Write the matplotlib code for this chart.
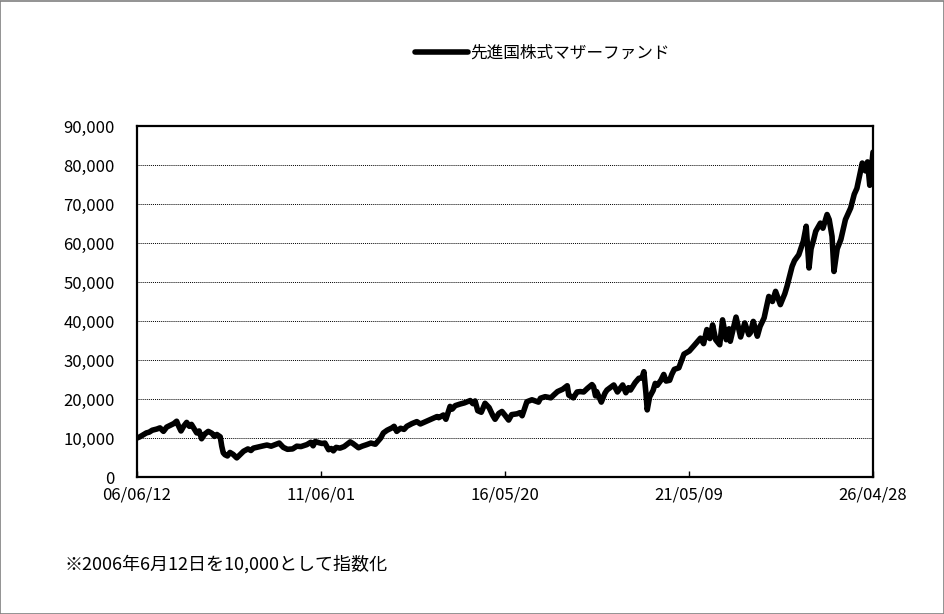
import matplotlib
matplotlib.use("Agg")
import matplotlib.pyplot as plt
from matplotlib.patches import Rectangle
from matplotlib.ticker import FuncFormatter, MultipleLocator
import pandas as pd

plt.rcParams['font.family'] = ['Noto Sans CJK JP', 'DejaVu Sans']

series_name = "先進国株式マザーファンド"
footnote = "※2006年6月12日を10,000として指数化"

dates = [
    "2006-06-12", "2006-07-10", "2006-08-05", "2006-09-12", "2006-10-10", "2006-11-10",
    "2006-12-25", "2007-01-25", "2007-02-28", "2007-04-01", "2007-05-10", "2007-06-10",
    "2007-07-08", "2007-07-25", "2007-08-20", "2007-09-15", "2007-10-15", "2007-11-10",
    "2007-12-01", "2008-01-22", "2008-02-15", "2008-03-10", "2008-04-10", "2008-05-15",
    "2008-06-20", "2008-07-15", "2008-08-08", "2008-09-10", "2008-09-25", "2008-10-10",
    "2008-10-27", "2008-11-20", "2008-12-15", "2009-01-15", "2009-02-20", "2009-03-20",
    "2009-04-28", "2009-06-10", "2009-07-10", "2009-08-03", "2009-09-20", "2009-11-10",
    "2009-12-15", "2010-01-25", "2010-04-15", "2010-05-25", "2010-07-05", "2010-08-25",
    "2010-10-05", "2010-11-15", "2011-01-12", "2011-02-20", "2011-03-15", "2011-04-05",
    "2011-05-10", "2011-06-10", "2011-07-10", "2011-08-15", "2011-09-10", "2011-10-01",
    "2011-10-28", "2011-12-05", "2012-01-15", "2012-03-15", "2012-04-10", "2012-06-05",
    "2012-07-10", "2012-08-25", "2012-10-05", "2012-11-18", "2013-01-10", "2013-02-05",
    "2013-03-15", "2013-05-01", "2013-05-22", "2013-06-17", "2013-07-25", "2013-08-28",
    "2013-09-25", "2013-11-15", "2014-01-01", "2014-02-05", "2014-03-20", "2014-05-20",
    "2014-07-20", "2014-08-05", "2014-09-20", "2014-10-15", "2014-11-25", "2014-12-16",
    "2015-01-15", "2015-03-03", "2015-04-15", "2015-06-12", "2015-07-08", "2015-07-30",
    "2015-08-25", "2015-09-29", "2015-11-05", "2015-12-15", "2016-01-20", "2016-02-12",
    "2016-03-20", "2016-04-20", "2016-05-15", "2016-06-25", "2016-07-25", "2016-09-15",
    "2016-10-15", "2016-11-05", "2016-12-22", "2017-02-10", "2017-04-15", "2017-05-05",
    "2017-06-20", "2017-08-15", "2017-09-12", "2017-10-20", "2017-12-10", "2018-01-24",
    "2018-02-08", "2018-03-25", "2018-05-01", "2018-06-01", "2018-07-05", "2018-08-10",
    "2018-09-25", "2018-10-10", "2018-10-30", "2018-11-10", "2018-12-26", "2019-01-31",
    "2019-02-20", "2019-04-28", "2019-06-03", "2019-07-25", "2019-08-25", "2019-09-20",
    "2019-10-10", "2019-11-25", "2019-12-31", "2020-01-31", "2020-02-19", "2020-03-10",
    "2020-03-23", "2020-04-15", "2020-05-20", "2020-06-10", "2020-06-30", "2020-08-05",
    "2020-09-02", "2020-09-25", "2020-10-30", "2020-11-20", "2020-12-15", "2021-01-29",
    "2021-03-20", "2021-05-12", "2021-06-25", "2021-08-30", "2021-09-30", "2021-11-01",
    "2021-12-01", "2021-12-28", "2022-01-27", "2022-03-08", "2022-04-05", "2022-05-12",
    "2022-06-08", "2022-06-20", "2022-08-16", "2022-09-30", "2022-11-10", "2022-12-20",
    "2023-01-05", "2023-02-02", "2023-03-14", "2023-04-10", "2023-05-20", "2023-07-05",
    "2023-08-10", "2023-09-10", "2023-10-27", "2023-12-10", "2024-01-01", "2024-02-20",
    "2024-03-15", "2024-04-26", "2024-06-10", "2024-07-08", "2024-07-25", "2024-08-05",
    "2024-08-25", "2024-09-20", "2024-10-10", "2024-11-25", "2024-12-20", "2025-01-30",
    "2025-02-20", "2025-03-20", "2025-04-08", "2025-05-10", "2025-06-15", "2025-07-30",
    "2025-09-20", "2025-10-25", "2025-11-20", "2025-12-10", "2026-01-12", "2026-02-12",
    "2026-03-05", "2026-03-27", "2026-04-28",
]
values = [
    10000, 10300, 10700, 11300, 11500, 12000,
    12300, 12600, 11700, 12800, 13300, 13700,
    14300, 13200, 11800, 13000, 14000, 13000,
    13500, 11300, 11800, 9800, 11000, 11700,
    11200, 10400, 10900, 10300, 7900, 6200,
    5700, 5400, 6300, 5800, 4900, 5600,
    6600, 7200, 6800, 7400, 7700, 8000,
    8200, 7900, 8700, 7600, 7100, 7200,
    7900, 7800, 8300, 8900, 8000, 9100,
    8800, 8600, 8700, 7000, 7300, 6700,
    7600, 7400, 7800, 9000, 8600, 7500,
    7900, 8300, 8700, 8400, 10000, 11300,
    12000, 12600, 13000, 11700, 12500, 12200,
    13000, 13700, 14200, 13600, 14100, 14800,
    15500, 15200, 15900, 14800, 18100, 17400,
    18300, 18700, 19000, 19600, 18800, 19500,
    17000, 16600, 18900, 17800, 15800, 14800,
    16300, 16800, 16000, 14600, 16000, 16200,
    16500, 15700, 19300, 19800, 19200, 20200,
    20600, 20300, 21000, 21900, 22500, 23400,
    21000, 20300, 21800, 21900, 21800, 22700,
    23700, 23200, 20800, 21900, 19200, 21500,
    22300, 23600, 21800, 23600, 21600, 22900,
    22300, 24200, 25300, 25400, 27000, 21500,
    17200, 20500, 22200, 24000, 23500, 24800,
    26300, 24600, 24800, 26300, 27600, 28000,
    31500, 32300, 33600, 35600, 34200, 37800,
    35500, 39000, 35200, 33900, 40300, 35200,
    38000, 34800, 41000, 35900, 39500, 36500,
    37000, 39900, 36100, 38600, 40800, 46300,
    45000, 47600, 44200, 47000, 48900, 54000,
    55500, 57000, 60500, 64300, 58000, 53600,
    58500, 60900, 63000, 65100, 63800, 67300,
    66000, 61700, 52700, 58500, 60900, 66000,
    69000, 72500, 74000, 76500, 80500, 78500,
    80800, 74800, 83300,
]

tick_dates = ["2006-06-12", "2011-06-01", "2016-05-20", "2021-05-09", "2026-04-28"]
tick_labels = ["06/06/12", "11/06/01", "16/05/20", "21/05/09", "26/04/28"]
y_max = 90000
y_step = 10000

x = pd.to_datetime(dates)
xt = pd.to_datetime(tick_dates)

fig = plt.figure(figsize=(9.45, 6.14), dpi=100)
ax = fig.add_axes([137/945, 1-477/614, (873-137)/945, (477-126)/614])

line, = ax.plot(x, values, color='black', linewidth=4.0, solid_capstyle='round',
                solid_joinstyle='round', label=series_name, zorder=3)

ax.set_xlim(xt[0], xt[-1])
ax.set_ylim(0, y_max)
ax.set_xticks(xt)
ax.set_xticklabels(tick_labels)
ax.yaxis.set_major_locator(MultipleLocator(y_step))
ax.yaxis.set_major_formatter(FuncFormatter(lambda v, p: f"{int(v):,}"))

ax.tick_params(axis='x', direction='in', length=4, width=1, pad=7, labelsize=12)
ax.tick_params(axis='y', length=0, pad=16, labelsize=12)
ax.grid(axis='y', color='black', linestyle=(0, (1, 1)), linewidth=0.7)
ax.set_axisbelow(True)
for s in ax.spines.values():
    s.set_linewidth(1.6)
    s.set_color('black')

leg = fig.legend(handles=[line], loc='center', bbox_to_anchor=(542/945, 1-53/614),
                 frameon=False, fontsize=12, handlelength=3.2, handletextpad=0.1)

fig.text(65/945, 1-564/614, footnote, fontsize=13, ha='left', va='center')

fig.patches.append(Rectangle((0.0005, 0.0005), 0.998, 0.998, transform=fig.transFigure,
                             fill=False, edgecolor='#808080', linewidth=1.2))

fig.savefig("out.png", dpi=100)
